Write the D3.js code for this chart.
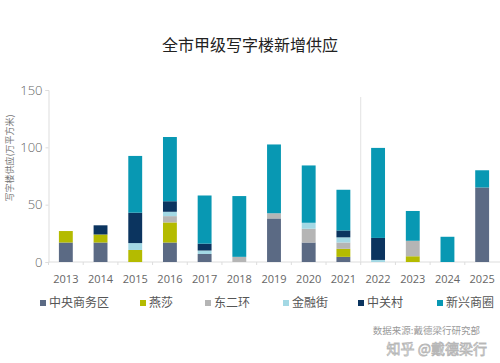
<!DOCTYPE html>
<html>
<head>
<meta charset="utf-8">
<script src="https://cdn.jsdelivr.net/npm/d3@7"></script>
<style>
  body { margin: 0; background: #fff; }
  svg { display: block; }
  .axis text { font-family: "Open Sans", "Noto Sans", sans-serif; fill: #666; }
  .axis path, .axis line { stroke: #ddd; }
</style>
</head>
<body>
<div id="chart"></div>
<script>
const years = ['2013','2014','2015','2016','2017','2018','2019','2020','2021','2022','2023','2024','2025'];
const seriesNames = ['中央商务区','燕莎','东二环','金融街','中关村','新兴商圈'];
const colors = ['#5b6a84','#b4bb00','#b5b5b5','#a3d8e4','#0b345f','#0898b3'];

const cbd       = [17, 17,  0,   17,  7, 0,   38, 17,  4.5, 0,   0,    0,  65];
const yansha    = [10,  7, 10.5, 17.5, 0, 0,   0,  0,  7,   0,   5,    0,  0];
const dongerhuan= [ 0,  0,  0,   5.5, 0, 4.5, 4.5, 12, 5.5, 0,  13.5,  0,  0];
const jinrongjie= [ 0,  0,  6,   3.8, 3, 0,   0,  5.2, 4.5, 1.8, 0,   0,  0];
const zhongguancun=[0,  8, 26.5, 9.2, 6, 0,   0,  0,  6,  19.2, 0,    0,  0];
const xinxing   = [ 0,  0, 49.5, 56,  42, 53, 60, 50, 35.5, 78.5, 26,  22, 15];

const yTicks = [0, 50, 100, 150];

const width = 500, height = 363;
const margin = {top: 90, bottom: 101, left: 48, right: 0};

const rows = years.map((y, i) => ({
  year: y,
  '中央商务区': cbd[i],
  '燕莎': yansha[i],
  '东二环': dongerhuan[i],
  '金融街': jinrongjie[i],
  '中关村': zhongguancun[i],
  '新兴商圈': xinxing[i]
}));

const svg = d3.select('#chart').append('svg')
  .attr('width', width)
  .attr('height', height);

svg.append('text')
  .attr('x', 250)
  .attr('y', 51)
  .attr('text-anchor', 'middle')
  .style('font-family', '"Noto Sans CJK SC", sans-serif')
  .style('font-size', '16px')
  .style('fill', '#222')
  .text('全市甲级写字楼新增供应');

let x = d3.scaleBand().domain(years).range([48.5, 499.5]).paddingInner(0.6).paddingOuter(0.3);
let y = d3.scaleLinear().domain([0, 150]).range([height - margin.bottom, margin.top]);

const stack = d3.stack().keys(seriesNames);
const layers = stack(rows);

let gX = svg.append('g')
  .attr('class', 'axis')
  .attr('transform', 'translate(0,' + y(0) + ')')
  .call(d3.axisBottom(x).tickSize(0).tickPadding(13));
gX.select('.domain').attr('d', 'M48.5,0H500');
gX.selectAll('text').style('font-size', '11px');

// small ticks between the bars
svg.append('g')
  .selectAll('line')
  .data(years)
  .enter()
  .append('line')
  .attr('x1', (d) => x(d) - x.step() * x.paddingInner() / 2)
  .attr('x2', (d) => x(d) - x.step() * x.paddingInner() / 2)
  .attr('y1', y(0))
  .attr('y2', y(0) + 3)
  .attr('stroke', '#ddd');

let gY = svg.append('g')
  .attr('class', 'axis')
  .attr('transform', 'translate(48.5,0)')
  .call(d3.axisLeft(y).tickValues(yTicks).tickSize(3).tickPadding(3));
gY.selectAll('text').style('font-size', '13px').style('font-weight', 300);

// divider between actuals and forecast
svg.append('line')
  .attr('x1', (x('2021') + x('2022') + x.bandwidth()) / 2)
  .attr('x2', (x('2021') + x('2022') + x.bandwidth()) / 2)
  .attr('y1', 97)
  .attr('y2', y(0))
  .attr('stroke', '#e2e2e2');

svg.append('g').selectAll('g')
  .data(layers)
  .enter()
  .append('g')
  .attr('fill', (d, i) => colors[i])
  .selectAll('rect')
  .data((d) => d)
  .enter()
  .append('rect')
  .attr('x', (d) => x(d.data.year))
  .attr('y', (d) => y(d[1]))
  .attr('width', x.bandwidth())
  .attr('height', (d) => y(d[0]) - y(d[1]));

svg.append('text')
  .attr('transform', 'translate(13,' + 158 + ') rotate(-90)')
  .attr('text-anchor', 'middle')
  .style('font-family', '"Noto Sans CJK SC", sans-serif')
  .style('font-size', '9px')
  .style('fill', '#777')
  .text('写字楼供应(万平方米)');

const legendX = [40, 140, 205, 283, 358, 437];
let legend = svg.append('g')
  .selectAll('g')
  .data(seriesNames)
  .enter()
  .append('g')
  .attr('transform', (d, i) => 'translate(' + legendX[i] + ',303)');
legend.append('rect')
  .attr('x', 0).attr('y', -3)
  .attr('width', 6).attr('height', 6)
  .attr('fill', (d, i) => colors[i]);
legend.append('text')
  .attr('x', 9)
  .attr('dy', '0.36em')
  .style('font-family', '"Noto Sans CJK SC", sans-serif')
  .style('font-size', '12px')
  .style('fill', '#555')
  .text((d) => d);

svg.append('text')
  .attr('x', 480)
  .attr('y', 334)
  .attr('text-anchor', 'end')
  .style('font-family', '"Noto Sans CJK SC", sans-serif')
  .style('font-size', '9.5px')
  .style('fill', '#999')
  .text('数据来源:戴德梁行研究部');

svg.append('text')
  .attr('x', 487)
  .attr('y', 354)
  .attr('text-anchor', 'end')
  .style('font-family', '"Noto Sans CJK SC", sans-serif')
  .style('font-size', '14px')
  .style('fill', 'rgba(255,255,255,0.6)')
  .style('stroke', 'rgba(120,120,120,0.55)')
  .style('stroke-width', 0.8)
  .text('知乎 @戴德梁行');
</script>
</body>
</html>
